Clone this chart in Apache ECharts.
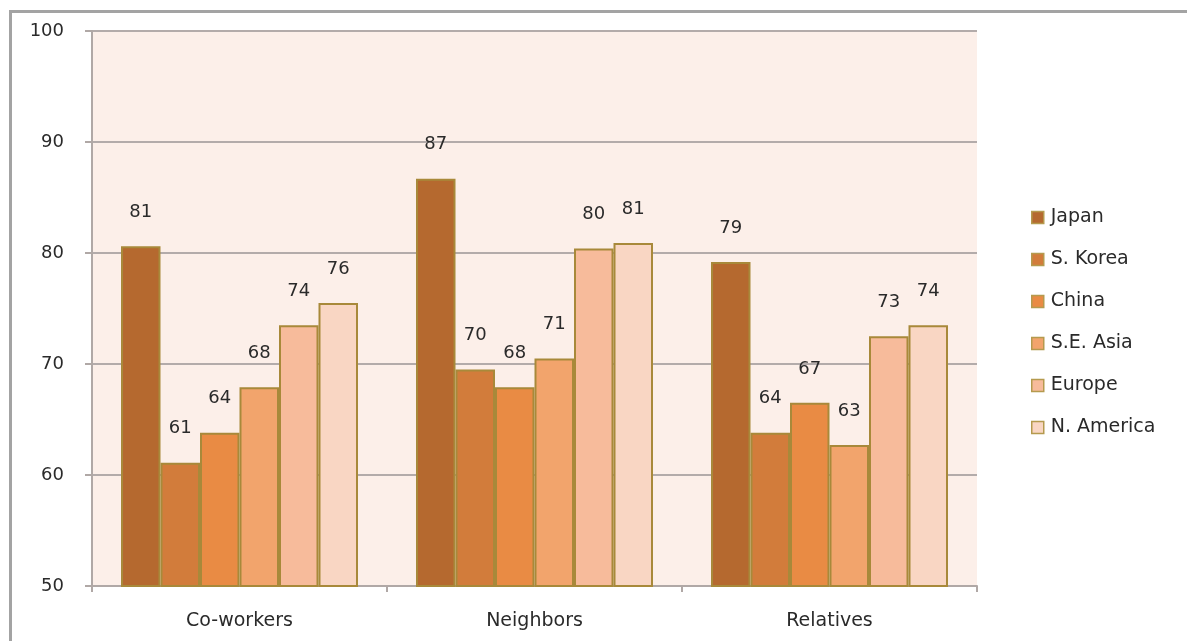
<!DOCTYPE html>
<html>
<head>
<meta charset="utf-8">
<script src="https://cdn.jsdelivr.net/npm/echarts@6/dist/echarts.min.js"></script>
<style>
html,body{margin:0;padding:0;background:#fff;overflow:hidden;}
#frame{position:absolute;left:9px;top:10px;width:1300px;height:700px;border-left:3px solid #a3a3a3;border-top:3px solid #a3a3a3;}
#chart{position:absolute;left:0;top:0;width:1187px;height:641px;}
</style>
</head>
<body>
<div id="frame"></div>
<div id="chart"></div>
<script>
const categories = ['Co-workers', 'Neighbors', 'Relatives'];
const seriesNames = ['Japan', 'S. Korea', 'China', 'S.E. Asia', 'Europe', 'N. America'];
const japan     = [80.6, 86.7, 79.2];
const sKorea    = [61.1, 69.5, 63.8];
const china     = [63.8, 67.9, 66.5];
const seAsia    = [67.9, 70.5, 62.7];
const europe    = [73.5, 80.4, 72.5];
const nAmerica  = [75.5, 80.9, 73.5];
const yTicks = [50, 60, 70, 80, 90, 100];

const values = [japan, sKorea, china, seAsia, europe, nAmerica];
const colors = ['#b5692f', '#d27c3b', '#e98b44', '#f2a46c', '#f7bb9b', '#f9d6c3'];
const font = '"DejaVu Sans", sans-serif';

const chart = echarts.init(document.getElementById('chart'), null, {renderer: 'canvas'});
chart.setOption({
  animation: false,
  textStyle: {fontFamily: font},
  grid: {left: 92, top: 31, right: 210, bottom: 55, show: true, backgroundColor: '#fcefe9', borderWidth: 0},
  legend: {
    orient: 'vertical', left: 1026, top: 203,
    itemWidth: 12, itemHeight: 12, itemGap: 23,
    icon: 'rect',
    itemStyle: {borderColor: '#b59a4e', borderWidth: 1.5},
    textStyle: {fontSize: 19, color: '#2a2a2a', fontFamily: font, padding: [0, 0, 0, 2]},
    data: seriesNames
  },
  xAxis: {
    type: 'category', data: categories,
    axisLine: {lineStyle: {color: '#b0a8a6', width: 2}},
    axisTick: {show: true, alignWithLabel: false, length: 6, lineStyle: {color: '#b0a8a6', width: 2}},
    axisLabel: {fontSize: 19, color: '#2a2a2a', margin: 26, fontFamily: font}
  },
  yAxis: {
    type: 'value', min: yTicks[0], max: yTicks[yTicks.length - 1], interval: 10,
    axisLine: {show: true, lineStyle: {color: '#b0a8a6', width: 2}},
    axisTick: {show: true, length: 7, lineStyle: {color: '#b0a8a6', width: 2}},
    axisLabel: {fontSize: 18, color: '#2a2a2a', margin: 28, fontFamily: font},
    splitLine: {lineStyle: {color: '#b3abaa', width: 2}}
  },
  series: seriesNames.map((name, i) => ({
    name: name, type: 'bar', data: values[i],
    barWidth: 39.5, barGap: '0%',
    itemStyle: {color: colors[i], borderColor: '#a8893a', borderWidth: 2},
    label: {show: true, position: 'top', distance: 25, fontSize: 18, color: '#2a2a2a', fontFamily: font,
      formatter: p => Math.round(p.value)}
  }))
});
</script>
</body>
</html>
